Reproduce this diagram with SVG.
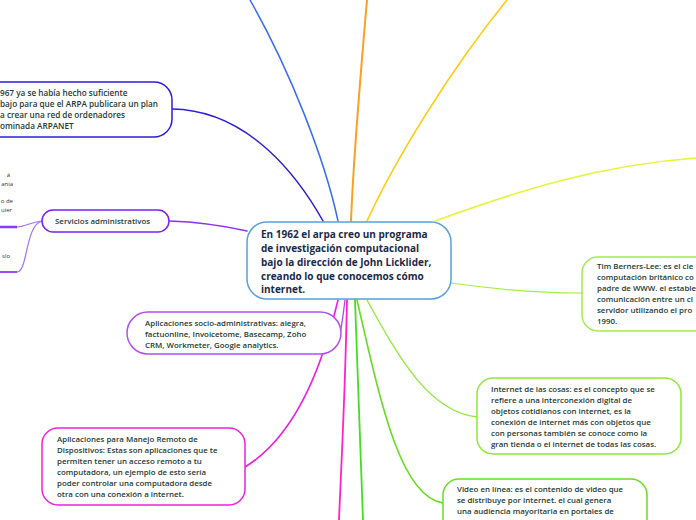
<svg xmlns="http://www.w3.org/2000/svg" width="696" height="520" viewBox="0 0 696 520">
<style>
.t{font-family:"Open Sans","Noto Sans","Liberation Sans",sans-serif;font-weight:600;fill:#1f3a35;font-size:7.9px}
.b{font-size:8.2px}
.c{font-family:"Open Sans","Noto Sans","Liberation Sans",sans-serif;font-weight:700;fill:#1b2a4a;font-size:10px}
.s{font-family:"Open Sans","Noto Sans","Liberation Sans",sans-serif;fill:#333;font-size:6px}
.l{fill:none;stroke-linecap:round}
</style>
<rect width="696" height="520" fill="#fff"/>
<g id="connectors">
<path class="l" d="M172,109 C250,110 300,180 323,221" stroke="#2a1fd8" stroke-width="1.5"/>
<path class="l" d="M250,0 C290,70 325,160 338,221" stroke="#3a6cf4" stroke-width="1.5"/>
<path class="l" d="M367,0 C360,80 353,170 351,221" stroke="#f7a126" stroke-width="2"/>
<path class="l" d="M507,0 C450,70 395,160 367,221" stroke="#ffcc11" stroke-width="1.6"/>
<path class="l" d="M435,221 C520,190 600,165 696,158" stroke="#e4f53c" stroke-width="1.6"/>
<path class="l" d="M451,283 C500,290 540,293 582,293" stroke="#a5ec4a" stroke-width="1.2"/>
<path class="l" d="M367,300 C400,360 430,412 477,417" stroke="#8fe83a" stroke-width="1.3"/>
<path class="l" d="M357,300 C380,400 400,497 443,503" stroke="#66dd22" stroke-width="1.6"/>
<path class="l" d="M355,300 C358,400 361,470 363,520" stroke="#44dd22" stroke-width="1.8"/>
<path class="l" d="M347,300 C345,400 341,470 339,520" stroke="#ff22cc" stroke-width="1.8"/>
<path class="l" d="M338,300 C326,350 302,432 245,467" stroke="#f020d8" stroke-width="1.6"/>
<path class="l" d="M345,300 C343,315 342,325 340,333" stroke="#a44ff0" stroke-width="1.3"/>
<path class="l" d="M169,221 C200,222 225,226 247,231" stroke="#8a33ee" stroke-width="1.5"/>
<path class="l" d="M42,221 C30,222 25,227 17,227" stroke="#a070f5" stroke-width="1.2"/>
<path class="l" d="M42,221 C25,225 28,272 17,272" stroke="#a070f5" stroke-width="1.2"/>
<path d="M0,227 H17" stroke="#8a3af0" stroke-width="2.5"/>
<path d="M0,272 H17" stroke="#8a3af0" stroke-width="1.8"/>
</g>
<g id="central">
<rect x="247" y="222" width="204" height="77" rx="20" fill="#fff" stroke="#5aa0dc" stroke-width="1.5"/>
<text class="c" x="261" y="238">En 1962 el arpa creo un programa</text>
<text class="c" x="261" y="252">de investigación computacional</text>
<text class="c" x="261" y="266">bajo la dirección de John Licklider,</text>
<text class="c" x="261" y="280">creando lo que conocemos cómo</text>
<text class="c" x="261" y="293">internet.</text>
</g>
<g id="arpanet">
<rect x="-30" y="82" width="202" height="55" rx="18" fill="#fff" stroke="#2a1fd8" stroke-width="1.5"/>
<text class="t b" x="0" y="96">967 ya se había hecho suficiente</text>
<text class="t b" x="0" y="107">bajo para que el ARPA publicara un plan</text>
<text class="t b" x="0" y="118">a crear una red de ordenadores</text>
<text class="t b" x="0" y="129">ominada ARPANET</text>
</g>
<g id="servicios">
<rect x="42" y="210" width="127" height="22" rx="11" fill="#fff" stroke="#7a22ee" stroke-width="1.5"/>
<text class="t" x="55" y="224">Servicios administrativos</text>
</g>
<g id="sub-servicios">
<text class="s" x="10" y="177" text-anchor="end">á</text>
<text class="s" x="13" y="186" text-anchor="end">ania</text>
<text class="s" x="13" y="203" text-anchor="end">o de</text>
<text class="s" x="12" y="212" text-anchor="end">uier</text>
<text class="s" x="10" y="258" text-anchor="end">slo</text>
</g>
<g id="socio">
<rect x="127" y="312" width="214" height="42" rx="21" fill="#fff" stroke="#b050f0" stroke-width="1.5"/>
<text class="t" x="145" y="326">Aplicaciones socio-administrativas:  alegra,</text>
<text class="t" x="145" y="337">factuonline, Invoicetome, Basecamp, Zoho</text>
<text class="t" x="145" y="348">CRM, Workmeter, Google analytics.</text>
</g>
<g id="remoto">
<rect x="42" y="428" width="203" height="77" rx="16" fill="#fff" stroke="#ee22dd" stroke-width="1.5"/>
<text class="t" x="57" y="442">Aplicaciones para Manejo Remoto de</text>
<text class="t" x="57" y="453">Dispositivos: Estas son aplicaciones que te</text>
<text class="t" x="57" y="464">permiten tener un acceso remoto a tu</text>
<text class="t" x="57" y="475">computadora, un ejemplo de esto sería</text>
<text class="t" x="57" y="486">poder controlar una computadora desde</text>
<text class="t" x="57" y="497">otra con una conexión a internet.</text>
</g>
<g id="berners-lee">
<rect x="582" y="257" width="140" height="74" rx="16" fill="#fff" stroke="#a5ec4a" stroke-width="1.5"/>
<text class="t" x="597" y="269">Tim Berners-Lee: es el cie</text>
<text class="t" x="597" y="280">computación británico co</text>
<text class="t" x="597" y="291">padre de WWW. el estable</text>
<text class="t" x="597" y="302">comunicación entre un cl</text>
<text class="t" x="597" y="313">servidor utilizando el pro</text>
<text class="t" x="597" y="324">1990.</text>
</g>
<g id="iot">
<rect x="477" y="378" width="204" height="76" rx="16" fill="#fff" stroke="#8fe83a" stroke-width="1.5"/>
<text class="t" x="491" y="392">Internet de las cosas: es el concepto que se</text>
<text class="t" x="491" y="403">refiere a una interconexión digital de</text>
<text class="t" x="491" y="414">objetos cotidianos con internet, es la</text>
<text class="t" x="491" y="425">conexión de internet más con objetos que</text>
<text class="t" x="491" y="436">con personas también se conoce como la</text>
<text class="t" x="491" y="447">gran tienda o el internet de todas las cosas.</text>
</g>
<g id="video">
<rect x="443" y="479" width="204" height="60" rx="16" fill="#fff" stroke="#66dd22" stroke-width="1.5"/>
<text class="t" x="457" y="492">Video en línea: es el contenido de video que</text>
<text class="t" x="457" y="503">se distribuye por internet. el cual genera</text>
<text class="t" x="457" y="514">una audiencia mayoritaria en portales de</text>
</g>
</svg>
